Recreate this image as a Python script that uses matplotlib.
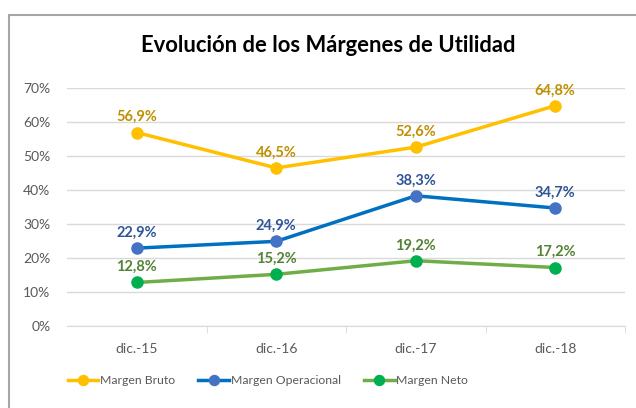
import matplotlib
matplotlib.use("Agg")
import matplotlib.pyplot as plt
from matplotlib.patches import Rectangle
from matplotlib.ticker import FuncFormatter

# data
periodos = ["dic.-15", "dic.-16", "dic.-17", "dic.-18"]
margen_bruto = [0.569, 0.465, 0.526, 0.648]
margen_operacional = [0.229, 0.249, 0.383, 0.347]
margen_neto = [0.128, 0.152, 0.192, 0.172]

series = [
    ("Margen Bruto", margen_bruto, "#FFC000", "#FFC000", "#BF9000"),
    ("Margen Operacional", margen_operacional, "#0070C0", "#4472C4", "#2F5597"),
    ("Margen Neto", margen_neto, "#70AD47", "#00B050", "#548235"),
]

plt.rcParams["font.family"] = ["Lato", "DejaVu Sans"]

fig = plt.figure(figsize=(6.36, 4.08), dpi=100)
# chart frame (cut off on right and bottom like the source)
fig.patches.append(Rectangle((9 / 636, -0.1), 1.2, (408 - 15) / 408 + 0.1,
                             transform=fig.transFigure, fill=False,
                             edgecolor="#A6A6A6", linewidth=1.5))

ax = fig.add_axes([67 / 636, (408 - 326) / 408, (625 - 67) / 636, (326 - 88) / 408])
x = range(len(periodos))

for name, vals, lc, mc, tc in series:
    ax.plot(x, vals, color=lc, linewidth=2.5, marker="o", markersize=8,
            markerfacecolor=mc, markeredgecolor=mc, label=name)
    for xi, v in zip(x, vals):
        ax.annotate(f"{v * 100:.1f}%".replace(".", ","), (xi, v),
                    xytext=(0, 6), textcoords="offset points",
                    ha="center", va="bottom", fontsize=10.5,
                    fontweight="bold", color=tc)

ax.set_xlim(-0.5, 3.5)
ax.set_ylim(0, 0.7)
ax.set_yticks([0, 0.1, 0.2, 0.3, 0.4, 0.5, 0.6, 0.7])
ax.yaxis.set_major_formatter(FuncFormatter(lambda v, p: f"{v * 100:.0f}%"))
ax.set_xticks(list(x))
ax.set_xticklabels(periodos)
ax.grid(axis="y", color="#D9D9D9", linewidth=1)
ax.set_axisbelow(True)
for s in ["top", "right", "left"]:
    ax.spines[s].set_visible(False)
ax.spines["bottom"].set_color("#D9D9D9")
ax.tick_params(axis="y", length=0, labelsize=10, labelcolor="#595959", pad=12)
ax.tick_params(axis="x", length=0, labelsize=10, labelcolor="#595959", pad=12)
# category boundary ticks
ax.set_xticks([0.5, 1.5, 2.5, 3.5], minor=True)
ax.tick_params(axis="x", which="minor", length=5, color="#D9D9D9")

fig.text(328 / 636, (408 - 45) / 408, "Evolución de los Márgenes de Utilidad",
         ha="center", va="center", fontsize=15.8, fontweight="bold", color="black")

fig.legend(loc="center", bbox_to_anchor=(268 / 636, (408 - 381) / 408), ncol=3,
           frameon=False, fontsize=8.8, labelcolor="#595959", handlelength=2.5,
           handletextpad=0.15, columnspacing=1.9, markerscale=0.9)

fig.savefig("out.png", dpi=100)
